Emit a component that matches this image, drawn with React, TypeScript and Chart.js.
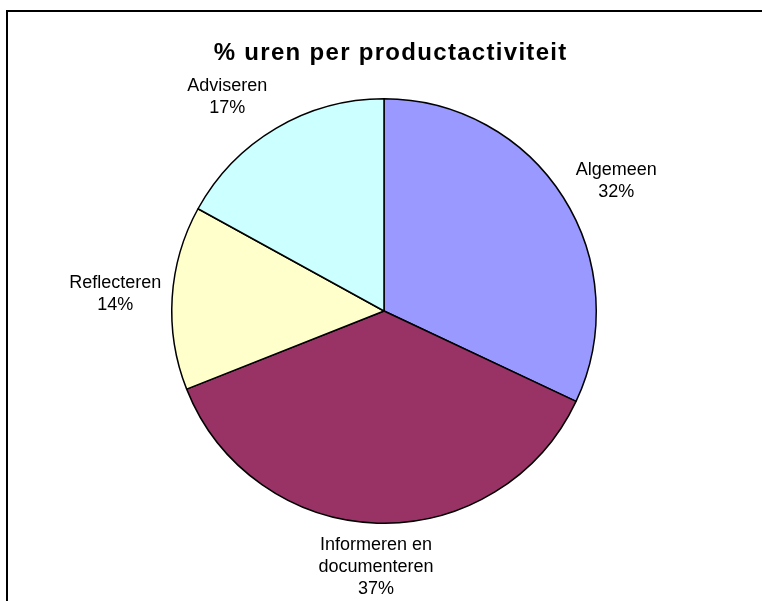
import React, { useEffect, useRef } from "react";
import { Chart, registerables } from "chart.js";

Chart.register(...registerables);

const TITLE = "% uren per productactiviteit";
const categories = ["Algemeen", "Informeren en documenteren", "Reflecteren", "Adviseren"];
const values = [32, 37, 14, 17];
const colors = ["#9999FF", "#993366", "#FFFFCC", "#CCFFFF"];
// small per-label nudges (style only)
const labelNudge = [
  { dx: 9, dy: 12 },
  { dx: 0, dy: 0 },
  { dx: 0, dy: 0 },
  { dx: -30, dy: 0 },
];

const LABEL_FONT = "18px 'Liberation Sans', Arial, sans-serif";
const TITLE_FONT = "bold 24px 'Liberation Sans', Arial, sans-serif";
const TITLE_SPACING = 1.3;
const LINE_H = 22;
const GAP = 11;
const WRAP = 120;

function wrapText(ctx: CanvasRenderingContext2D, text: string, maxW: number): string[] {
  const words = text.split(" ");
  const lines: string[] = [];
  let cur = "";
  for (const w of words) {
    const t = cur ? cur + " " + w : w;
    if (cur && ctx.measureText(t).width > maxW) {
      lines.push(cur);
      cur = w;
    } else cur = t;
  }
  if (cur) lines.push(cur);
  return lines;
}

const framePlugin = {
  id: "frame",
  beforeDraw(chart: any) {
    const ctx = chart.ctx as CanvasRenderingContext2D;
    ctx.save();
    ctx.fillStyle = "#ffffff";
    ctx.fillRect(0, 0, chart.width, chart.height);
    ctx.strokeStyle = "#000000";
    ctx.lineWidth = 2;
    ctx.strokeRect(7, 11, chart.width + 20, chart.height + 20);
    ctx.fillStyle = "#000000";
    ctx.font = TITLE_FONT;
    (ctx as any).letterSpacing = TITLE_SPACING + "px";
    ctx.textAlign = "center";
    ctx.textBaseline = "middle";
    ctx.fillText(TITLE, 390 + TITLE_SPACING / 2, 53);
    (ctx as any).letterSpacing = "0px";
    ctx.restore();
  },
};

const labelPlugin = {
  id: "outLabels",
  afterDatasetsDraw(chart: any) {
    const ctx = chart.ctx as CanvasRenderingContext2D;
    const meta = chart.getDatasetMeta(0);
    const data = chart.data.datasets[0].data as number[];
    const total = data.reduce((a, b) => a + b, 0);
    ctx.save();
    ctx.font = LABEL_FONT;
    ctx.fillStyle = "#000000";
    ctx.textAlign = "center";
    ctx.textBaseline = "middle";
    meta.data.forEach((arc: any, i: number) => {
      const p = arc.getProps(["x", "y", "startAngle", "endAngle", "outerRadius"], true);
      const mid = (p.startAngle + p.endAngle) / 2;
      const dx = Math.cos(mid);
      const dy = Math.sin(mid);
      const lines = wrapText(ctx, String(chart.data.labels[i]), WRAP);
      lines.push(Math.round((data[i] / total) * 100) + "%");
      const w = Math.max(...lines.map((l) => ctx.measureText(l).width));
      const h = lines.length * LINE_H;
      const ex = Math.abs(dx) > 1e-6 ? w / 2 / Math.abs(dx) : Infinity;
      const ey = Math.abs(dy) > 1e-6 ? h / 2 / Math.abs(dy) : Infinity;
      const d = p.outerRadius + GAP + Math.min(ex, ey);
      const cx = p.x + dx * d + labelNudge[i].dx;
      const cy = p.y + dy * d + labelNudge[i].dy;
      lines.forEach((l, k) => {
        ctx.fillText(l, cx, cy - h / 2 + LINE_H / 2 + k * LINE_H);
      });
    });
    ctx.restore();
  },
};

export default function App() {
  const ref = useRef<HTMLCanvasElement>(null);
  useEffect(() => {
    if (!ref.current) return;
    const chart = new Chart(ref.current, {
      type: "pie",
      data: {
        labels: categories,
        datasets: [
          {
            data: values,
            backgroundColor: colors,
            borderColor: "#000000",
            borderWidth: 1.5,
          },
        ],
      },
      options: {
        responsive: false,
        animation: false,
        layout: { padding: { left: 171, right: 165, top: 98, bottom: 77 } },
        plugins: {
          legend: { display: false },
          tooltip: { enabled: false },
          title: { display: false },
        },
      },
      plugins: [framePlugin, labelPlugin],
    });
    return () => chart.destroy();
  }, []);
  return (
    <div style={{ position: "absolute", left: 0, top: 0, width: 762, height: 601 }}>
      <canvas ref={ref} width={762} height={601} />
    </div>
  );
}
